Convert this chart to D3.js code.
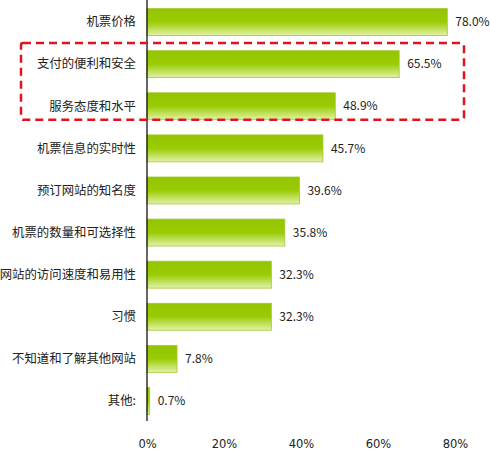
<!DOCTYPE html>
<html>
<head>
  <meta charset="utf-8">
  <title>机票预订因素</title>
  <style>
    body { margin: 0; background: #fff; }
    text { font-family: "Noto Sans CJK SC", "DejaVu Sans", sans-serif; fill: #222; }
  </style>
</head>
<body>
  <svg id="chart"></svg>

  <script src="https://d3js.org/d3.v7.min.js"></script>
  <script>
    // 数据
    const categories = ["机票价格", "支付的便利和安全", "服务态度和水平", "机票信息的实时性",
      "预订网站的知名度", "机票的数量和可选择性", "网站的访问速度和易用性", "习惯",
      "不知道和了解其他网站", "其他:"];
    const values = [78.0, 65.5, 48.9, 45.7, 39.6, 35.8, 32.3, 32.3, 7.8, 0.7];
    const tickValues = [0, 20, 40, 60, 80];
    const highlighted = ["支付的便利和安全", "服务态度和水平"];

    const width = 490;
    const height = 452;
    const left = 147;

    const svg = d3.select("#chart")
      .attr("width", width)
      .attr("height", height);

    const x = d3.scaleLinear().domain([0, 80]).range([left, 455]);
    const y = d3.scaleBand().domain(categories).range([1, 422]).paddingInner(0.36).paddingOuter(0.18);

    // 渐变
    const grad = svg.append("defs").append("linearGradient")
      .attr("id", "barGrad")
      .attr("x1", 0).attr("y1", 0).attr("x2", 0).attr("y2", 1);
    grad.append("stop").attr("offset", "0%").attr("stop-color", "#93c400");
    grad.append("stop").attr("offset", "50%").attr("stop-color", "#9acc05");
    grad.append("stop").attr("offset", "100%").attr("stop-color", "#e2f2a8");

    // 柱子
    svg.selectAll(".bar")
      .data(values)
      .enter().append("rect")
      .attr("class", "bar")
      .attr("x", x(0))
      .attr("y", (d, i) => y(categories[i]))
      .attr("width", d => x(d) - x(0))
      .attr("height", y.bandwidth())
      .attr("fill", "url(#barGrad)")
      .attr("stroke", "#a4c834")
      .attr("stroke-width", 0.8);

    // 数值
    svg.selectAll(".val")
      .data(values)
      .enter().append("text")
      .attr("class", "val")
      .attr("x", d => x(d) + 8)
      .attr("y", (d, i) => y(categories[i]) + y.bandwidth() / 2)
      .attr("dy", "0.35em")
      .style("font-size", "12px")
      .text(d => d.toFixed(1) + "%");

    // 类别
    svg.selectAll(".cat")
      .data(categories)
      .enter().append("text")
      .attr("class", "cat")
      .attr("x", 136)
      .attr("y", d => y(d) + y.bandwidth() / 2)
      .attr("dy", "0.35em")
      .attr("text-anchor", "end")
      .style("font-size", "12.4px")
      .text(d => d);

    // 纵轴线
    svg.append("line")
      .attr("x1", x(0)).attr("x2", x(0))
      .attr("y1", 0).attr("y2", 421)
      .attr("stroke", "#000")
      .attr("stroke-width", 1.2);

    // 横轴刻度
    const xAxis = svg.append("g")
      .attr("transform", "translate(0,437)")
      .call(d3.axisBottom(x).tickValues(tickValues).tickSize(0).tickFormat(d => d + "%"));
    xAxis.select(".domain").remove();
    xAxis.selectAll("text")
      .style("font-size", "11.5px")
      .style("font-family", "'DejaVu Sans', sans-serif")
      .attr("fill", "#222");

    // 红色虚线框
    const boxTop = y(highlighted[0]) - (y.step() - y.bandwidth()) / 2;
    const boxBottom = y(highlighted[1]) + y.bandwidth();
    svg.append("rect")
      .attr("x", 21)
      .attr("y", boxTop)
      .attr("width", 464 - 21)
      .attr("height", boxBottom - boxTop)
      .attr("rx", 2)
      .attr("fill", "none")
      .attr("stroke", "#e0141e")
      .attr("stroke-width", 2.5)
      .attr("stroke-dasharray", "8,5");
  </script>
</body>
</html>
